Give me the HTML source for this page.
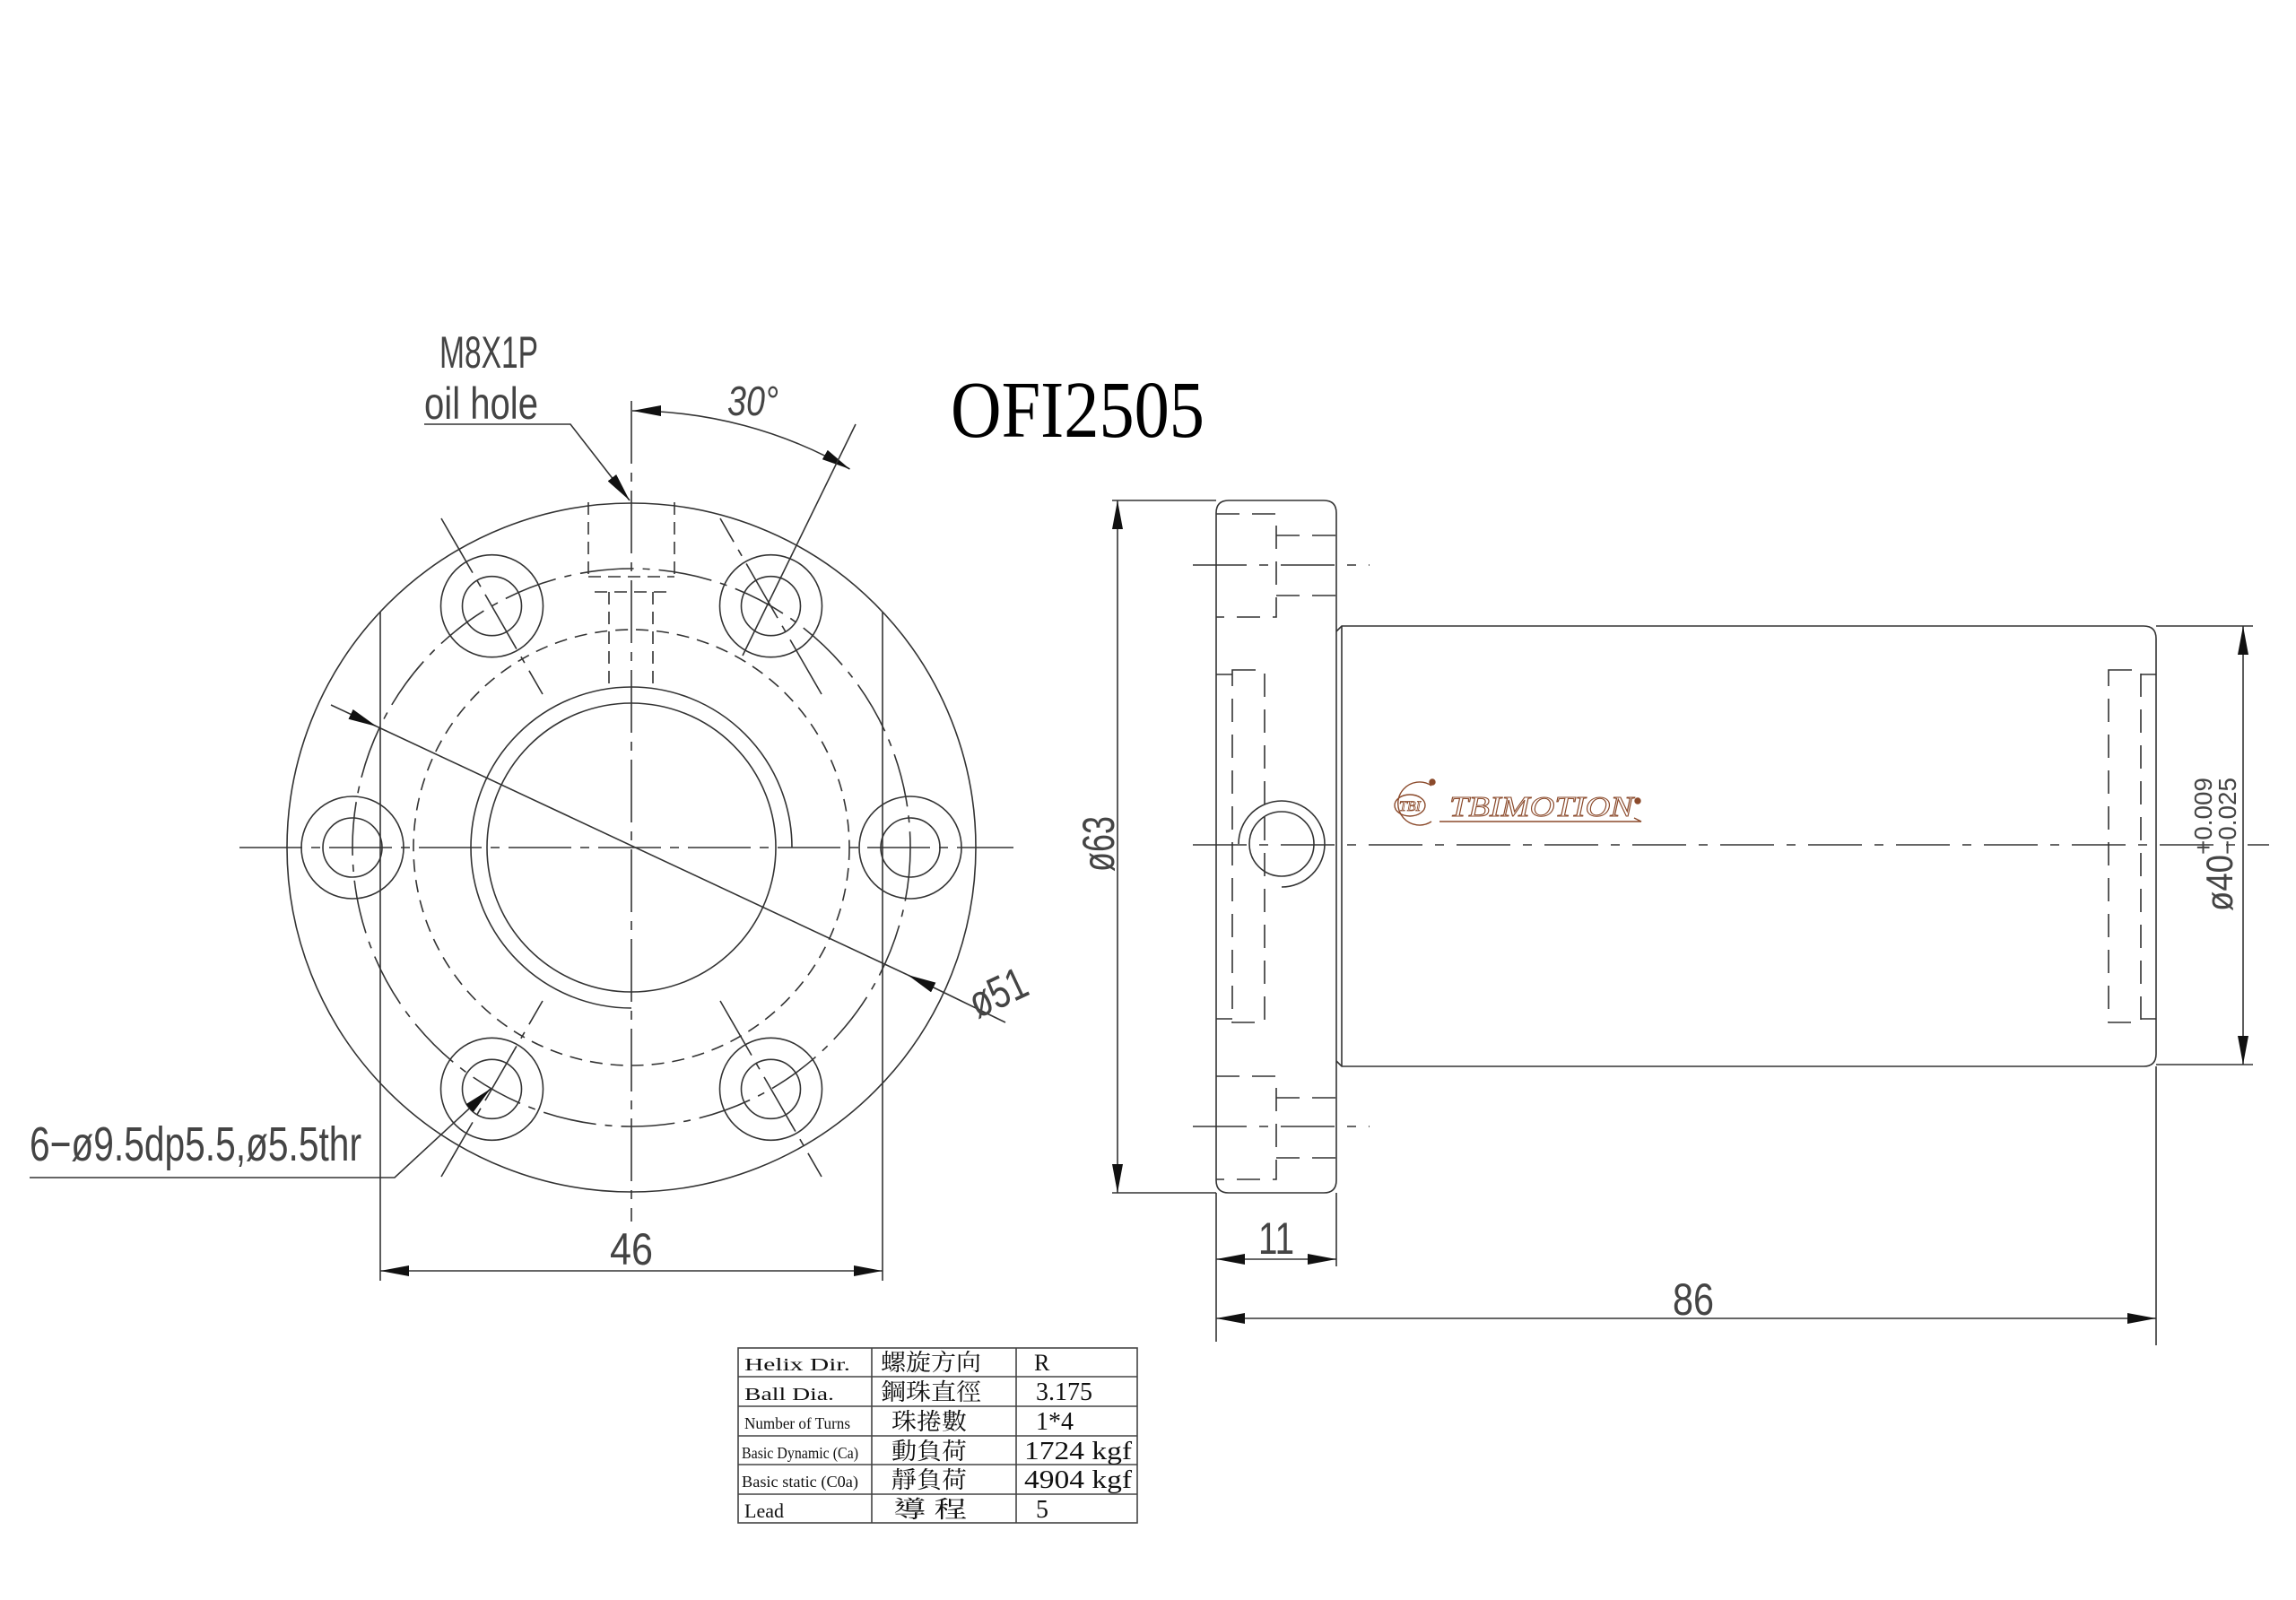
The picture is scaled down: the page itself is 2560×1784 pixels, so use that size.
<!DOCTYPE html>
<html><head><meta charset="utf-8"><style>
html,body{margin:0;padding:0;background:#fff;}
svg{display:block;}
</style></head><body>
<svg width="2560" height="1784" viewBox="0 0 2560 1784" xmlns="http://www.w3.org/2000/svg">
<defs>
<marker id="a" markerUnits="userSpaceOnUse" markerWidth="34" markerHeight="12" refX="32" refY="6" orient="auto-start-reverse">
<path d="M0,0 L32,6 L0,12 z" fill="#111"/>
</marker>
</defs>
<rect width="2560" height="1784" fill="#fff"/>
<g fill="none" stroke="#333" stroke-width="1.6">
<!-- LEFT VIEW -->
<circle cx="704" cy="945" r="384"/>
<circle cx="704" cy="945" r="311" stroke-dasharray="60 10 8 10"/>
<circle cx="704" cy="945" r="243" stroke-dasharray="14 9"/>
<circle cx="704" cy="945" r="161"/>
<path d="M883 945 A179 179 0 1 0 704 1124"/>
<!-- holes -->
<g>
<circle cx="1015" cy="945" r="57"/><circle cx="1015" cy="945" r="33"/>
<circle cx="393" cy="945" r="57"/><circle cx="393" cy="945" r="33"/>
<circle cx="859.5" cy="675.7" r="57"/><circle cx="859.5" cy="675.7" r="33"/>
<circle cx="548.5" cy="675.7" r="57"/><circle cx="548.5" cy="675.7" r="33"/>
<circle cx="548.5" cy="1214.3" r="57"/><circle cx="548.5" cy="1214.3" r="33"/>
<circle cx="859.5" cy="1214.3" r="57"/><circle cx="859.5" cy="1214.3" r="33"/>
</g>
<g stroke-dasharray="70 10 8 10">
<line x1="492" y1="578" x2="605" y2="774"/>
<line x1="916" y1="774" x2="803" y2="578"/>
<line x1="492" y1="1312" x2="605" y2="1116"/>
<line x1="803" y1="1116" x2="916" y2="1312"/>
</g>
<!-- oil hole hidden -->
<g stroke-dasharray="14 8">
<line x1="656" y1="560" x2="656" y2="643"/>
<line x1="752" y1="560" x2="752" y2="643"/>
<line x1="656" y1="643" x2="752" y2="643"/>
<line x1="663" y1="660" x2="745" y2="660"/>
<line x1="679" y1="660" x2="679" y2="768"/>
<line x1="728" y1="660" x2="728" y2="768"/>
</g>
<!-- center lines -->
<line x1="704" y1="447" x2="704" y2="1362" stroke-dasharray="70 10 10 10"/>
<line x1="267" y1="945" x2="1130" y2="945" stroke-dasharray="70 10 10 10"/>
<!-- extension lines 46 -->
<line x1="424" y1="682" x2="424" y2="1428"/>
<line x1="984" y1="682" x2="984" y2="1428"/>
<line x1="424" y1="1417" x2="984" y2="1417" marker-start="url(#a)" marker-end="url(#a)"/>
<!-- 30 deg -->
<path d="M705 458 A487 487 0 0 1 947.5 523" marker-start="url(#a)" marker-end="url(#a)"/>
<line x1="828" y1="731" x2="954" y2="473"/>
<!-- oil leader -->
<polyline points="473,473 636,473 702,558" marker-end="url(#a)"/>
<!-- phi51 -->
<line x1="369" y1="786" x2="420" y2="810" marker-end="url(#a)"/>
<line x1="420" y1="810" x2="1012" y2="1087" />
<line x1="1121" y1="1140" x2="1012" y2="1087" marker-end="url(#a)"/>
<!-- hole leader -->
<polyline points="33,1313 440,1313 547,1214" marker-end="url(#a)"/>

<!-- RIGHT VIEW -->
<path d="M1370 558 H1476 Q1490 558 1490 572 V1316 Q1490 1330 1476 1330 H1370 Q1356 1330 1356 1316 V572 Q1356 558 1370 558 Z"/>
<path d="M1490 704 L1496 698 H2390 Q2404 698 2404 712 V1175 Q2404 1189 2390 1189 H1496 L1490 1183"/>
<line x1="1496" y1="698" x2="1496" y2="1189"/>
<!-- counterbores -->
<g stroke-dasharray="26 14">
<polyline points="1356,573 1423,573 1423,688 1356,688"/>
<line x1="1423" y1="597" x2="1490" y2="597"/>
<line x1="1423" y1="664" x2="1490" y2="664"/>
<polyline points="1356,1200 1423,1200 1423,1315 1356,1315"/>
<line x1="1423" y1="1224" x2="1490" y2="1224"/>
<line x1="1423" y1="1291" x2="1490" y2="1291"/>
<rect x="1374" y="747" width="36" height="393"/>
<rect x="2351" y="747" width="36" height="393"/>
</g>
<line x1="1356" y1="752" x2="1374" y2="752"/><line x1="1356" y1="1136" x2="1374" y2="1136"/>
<line x1="2387" y1="752" x2="2404" y2="752"/><line x1="2387" y1="1136" x2="2404" y2="1136"/>
<g stroke-dasharray="60 14 10 14">
<line x1="1330" y1="630" x2="1527" y2="630"/>
<line x1="1330" y1="1256" x2="1527" y2="1256"/>
<line x1="1330" y1="942" x2="2530" y2="942"/>
</g>
<circle cx="1429" cy="941" r="36"/>
<path d="M1381 941 A48 48 0 1 1 1429 989"/>
<!-- dim 63 -->
<line x1="1240" y1="558" x2="1356" y2="558"/>
<line x1="1240" y1="1330" x2="1356" y2="1330"/>
<line x1="1246" y1="558" x2="1246" y2="1330" marker-start="url(#a)" marker-end="url(#a)"/>
<!-- dim 40 -->
<line x1="2404" y1="698" x2="2512" y2="698"/>
<line x1="2404" y1="1187" x2="2512" y2="1187"/>
<line x1="2501" y1="698" x2="2501" y2="1187" marker-start="url(#a)" marker-end="url(#a)"/>
<!-- dim 11 / 86 -->
<line x1="1356" y1="1330" x2="1356" y2="1496"/>
<line x1="1490" y1="1330" x2="1490" y2="1412"/>
<line x1="2404" y1="1189" x2="2404" y2="1500"/>
<line x1="1356" y1="1404" x2="1490" y2="1404" marker-start="url(#a)" marker-end="url(#a)"/>
<line x1="1356" y1="1470" x2="2404" y2="1470" marker-start="url(#a)" marker-end="url(#a)"/>
</g>

<!-- TEXT -->
<g font-family="Liberation Sans, sans-serif" fill="#444">
<text x="490" y="410" font-size="50" textLength="110" lengthAdjust="spacingAndGlyphs">M8X1P</text>
<text x="473" y="467" font-size="50" textLength="127" lengthAdjust="spacingAndGlyphs">oil hole</text>
<text x="811" y="463" font-size="46" font-style="italic" textLength="57" lengthAdjust="spacingAndGlyphs">30°</text>
<text x="33" y="1294" font-size="54" textLength="370" lengthAdjust="spacingAndGlyphs">6−ø9.5dp5.5,ø5.5thr</text>
<text x="680" y="1410" font-size="50" textLength="48" lengthAdjust="spacingAndGlyphs">46</text>
<text transform="translate(1090,1136) rotate(-25)" font-size="50" textLength="66" lengthAdjust="spacingAndGlyphs">ø51</text>
<text transform="translate(1242,972) rotate(-90)" font-size="50" textLength="62" lengthAdjust="spacingAndGlyphs">ø63</text>
<text transform="translate(2489,1016) rotate(-90)" font-size="42" textLength="63" lengthAdjust="spacingAndGlyphs">ø40</text>
<text transform="translate(2466,953) rotate(-90)" font-size="28" textLength="86" lengthAdjust="spacingAndGlyphs">+0.009</text>
<text transform="translate(2493,953) rotate(-90)" font-size="28" textLength="86" lengthAdjust="spacingAndGlyphs">−0.025</text>
<text x="1403" y="1398" font-size="50" textLength="40" lengthAdjust="spacingAndGlyphs">11</text>
<text x="1865" y="1466" font-size="50" textLength="46" lengthAdjust="spacingAndGlyphs">86</text>
</g>
<text x="1060" y="487" font-family="Liberation Serif, serif" font-size="90" fill="#000" textLength="283" lengthAdjust="spacingAndGlyphs">OFI2505</text>

<!-- logo -->
<g fill="none" stroke="#8b4a2b" stroke-width="1.4">
<path d="M1596 876 A24 24 0 1 0 1596 916"/>
<ellipse cx="1572" cy="898" rx="17" ry="12"/>
<circle cx="1597" cy="872" r="3" fill="#8b4a2b"/>
<polyline points="1605,916 1830,916 1822,912"/>
<circle cx="1826" cy="893" r="3" fill="#8b4a2b"/>
</g>
<text x="1560" y="904" font-family="Liberation Serif, serif" font-style="italic" font-size="16" fill="#fff" stroke="#8b4a2b" stroke-width="0.8">TBI</text>
<text x="1616" y="910" font-family="Liberation Serif, serif" font-style="italic" font-size="32" fill="#fff" stroke="#8b4a2b" stroke-width="1" textLength="205" lengthAdjust="spacingAndGlyphs">TBIMOTION</text>

<!-- table -->
<g fill="none" stroke="#444" stroke-width="1.6">
<rect x="823" y="1503" width="445" height="195"/>
<line x1="823" y1="1535" x2="1268" y2="1535"/>
<line x1="823" y1="1568" x2="1268" y2="1568"/>
<line x1="823" y1="1601" x2="1268" y2="1601"/>
<line x1="823" y1="1633" x2="1268" y2="1633"/>
<line x1="823" y1="1666" x2="1268" y2="1666"/>
<line x1="972" y1="1503" x2="972" y2="1698"/>
<line x1="1133" y1="1503" x2="1133" y2="1698"/>
</g>
<g font-family="Liberation Serif, 'Noto Serif CJK TC', 'Noto Serif CJK SC', serif" fill="#111">
<text x="830" y="1528" font-size="20" textLength="118" lengthAdjust="spacingAndGlyphs">Helix  Dir.</text>
<text x="830" y="1561" font-size="20" textLength="100" lengthAdjust="spacingAndGlyphs">Ball Dia.</text>
<text x="830" y="1593" font-size="18" textLength="118" lengthAdjust="spacingAndGlyphs">Number of Turns</text>
<text x="827" y="1626" font-size="18" textLength="130" lengthAdjust="spacingAndGlyphs">Basic Dynamic (Ca)</text>
<text x="827" y="1658" font-size="18" textLength="130" lengthAdjust="spacingAndGlyphs">Basic static (C0a)</text>
<text x="830" y="1692" font-size="22">Lead</text>
<text x="982" y="1528" font-size="26" textLength="112" lengthAdjust="spacingAndGlyphs">螺旋方向</text>
<text x="982" y="1561" font-size="26" textLength="112" lengthAdjust="spacingAndGlyphs">鋼珠直徑</text>
<text x="994" y="1594" font-size="26" textLength="84" lengthAdjust="spacingAndGlyphs">珠捲數</text>
<text x="994" y="1627" font-size="26" textLength="84" lengthAdjust="spacingAndGlyphs">動負荷</text>
<text x="994" y="1659" font-size="26" textLength="84" lengthAdjust="spacingAndGlyphs">靜負荷</text>
<text x="996" y="1692" font-size="26" textLength="82" lengthAdjust="spacingAndGlyphs">導  程</text>
<text x="1153" y="1528" font-size="26">R</text>
<text x="1155" y="1561" font-size="28">3.175</text>
<text x="1155" y="1594" font-size="28">1*4</text>
<text x="1142" y="1627" font-size="28" textLength="120" lengthAdjust="spacingAndGlyphs">1724 kgf</text>
<text x="1142" y="1659" font-size="28" textLength="120" lengthAdjust="spacingAndGlyphs">4904 kgf</text>
<text x="1155" y="1692" font-size="28">5</text>
</g>
</svg>
</body></html>
